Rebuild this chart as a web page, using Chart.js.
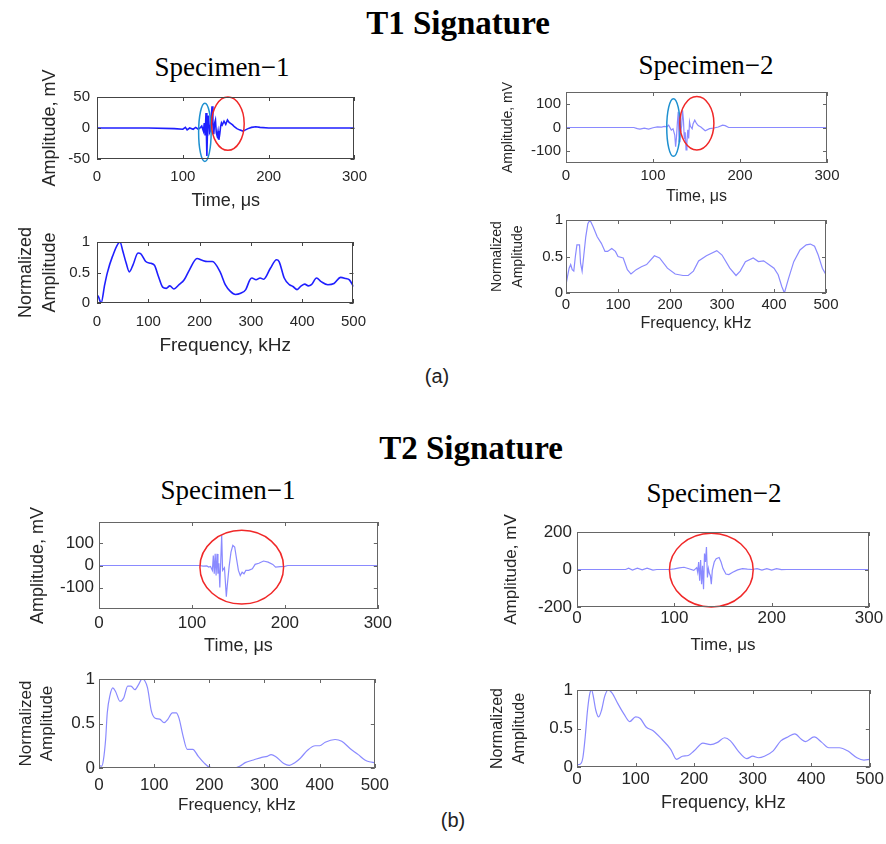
<!DOCTYPE html>
<html>
<head>
<meta charset="utf-8">
<script src="https://cdn.jsdelivr.net/npm/chart.js@4.4.1/dist/chart.umd.min.js"></script>
<style>
  html, body { margin: 0; padding: 0; background: #fff; }
  #wrap { position: relative; width: 886px; height: 844px; overflow: hidden; background: #fff; }
  canvas { position: absolute; }
  .t { position: absolute; white-space: nowrap; transform: translateX(-50%); line-height: 1; color: #000; }
  .big { font-family: "Liberation Serif", serif; font-weight: bold; font-size: 33px; }
  .spec { font-family: "Liberation Serif", serif; font-size: 27px; }
  .lab { font-family: "Liberation Sans", sans-serif; font-size: 20px; color: #222; }
</style>
</head>
<body>
<div id="wrap">
  <div class="t big" style="left:458px; top:7px;">T1 Signature</div>
  <div class="t spec" style="left:222px; top:54px;">Specimen−1</div>
  <div class="t spec" style="left:706px; top:52px;">Specimen−2</div>
  <div class="t lab" style="left:437px; top:366px;">(a)</div>
  <div class="t big" style="left:471px; top:432px;">T2 Signature</div>
  <div class="t spec" style="left:228px; top:477px;">Specimen−1</div>
  <div class="t spec" style="left:714px; top:480px;">Specimen−2</div>
  <div class="t lab" style="left:453px; top:810px;">(b)</div>
</div>
<script>
// ---------------- DATA ----------------
// T1 Signature, Specimen-1, time domain (µs, mV)
const t1s1Time = [0,60,90,100,103,105,108,112,115,118,120,122,124,125,126,127,128,129,130,131,132,133,134,135,136,137,138,139,140,141,142,143,144,145,146,148,150,152,154,156,158,160,163,166,170,173,176,180,185,190,200,250,300];
const t1s1Amp  = [0,0,-1,-2,1,-3,0,-2,1,-2,0,3,-5,8,-12,24,-45,10,20,-8,-5,15,35,5,-10,8,13,-8,-13,-5,-19,-10,2,8,5,11,6,13,9,7,5,2,-1,-3,-5,-3,-1,1,2,1,0,0,0];
// T1 Signature, Specimen-1, frequency domain (kHz, normalized)
const t1s1Freq = [0,3,8,15,20,30,45,50,57,63,70,80,85,95,105,112,120,128,135,142,150,160,170,180,195,205,215,225,240,250,260,270,280,290,298,302,310,318,325,338,350,355,365,375,382,390,398,405,412,418,428,437,450,462,475,485,492,500];
const t1s1Norm = [0.135,0.1,0.0,0.3,0.49,0.76,1.0,0.86,0.65,0.51,0.62,0.82,0.81,0.68,0.65,0.62,0.43,0.26,0.24,0.28,0.23,0.3,0.38,0.54,0.73,0.7,0.68,0.68,0.51,0.3,0.19,0.14,0.16,0.22,0.38,0.41,0.38,0.41,0.39,0.57,0.71,0.68,0.41,0.3,0.27,0.22,0.28,0.31,0.28,0.3,0.41,0.35,0.3,0.32,0.42,0.4,0.38,0.27];
// T1 Signature, Specimen-2, time domain
const t1s2Time = [0,78,82,85,90,95,100,105,110,113,116,118,121,123,125,126,127,128,129,130,131,132,133,134,135,136,137,138,139,140,141,142,143,145,146,148,150,152,155,160,165,170,175,180,183,187,190,220,300];
const t1s2Amp  = [0,0,-5,-7,-3,-7,-1,3,2,5,3,10,-11,-5,-32,-81,-40,20,66,-60,45,-20,10,73,30,-50,-20,-95,-60,-10,-46,24,5,-5,15,31,17,8,2,-14,-5,-2,2,10,8,0,0,0,0];
// T1 Signature, Specimen-2, frequency domain
const t1s2Freq = [0,3,6,9,12,15,18,21,26,28,31,34,38,42,46,52,60,68,75,80,88,95,100,110,118,125,135,145,155,170,180,195,210,225,235,245,255,270,290,300,315,327,335,345,360,370,380,390,400,408,415,420,428,438,450,462,470,478,485,493,500];
const t1s2Norm = [0.11,0.23,0.34,0.39,0.32,0.3,0.5,0.66,0.66,0.41,0.3,0.5,0.77,0.95,1.0,0.91,0.77,0.68,0.57,0.57,0.61,0.57,0.5,0.48,0.32,0.26,0.32,0.36,0.39,0.51,0.48,0.34,0.26,0.24,0.24,0.3,0.44,0.51,0.58,0.52,0.34,0.24,0.3,0.43,0.48,0.43,0.44,0.39,0.34,0.25,0.09,0.0,0.2,0.43,0.59,0.66,0.67,0.64,0.52,0.34,0.25];
// T2 Signature, Specimen-1, time domain
const t2s1Time = [0,108,112,116,118,120,122,123,124,125,126,127,128,129,130,131,132,133,135,137,138,140,142,144,146,148,150,152,154,156,158,161,165,168,172,177,182,187,190,195,200,203,300];
const t2s1Amp  = [0,0,-3,-2,-7,-4,-22,45,-37,52,-45,52,-37,10,-98,20,135,-22,-10,-140,-90,-5,60,90,83,30,-22,-45,-30,-37,-22,-22,-15,5,10,20,15,5,-7,-5,-4,0,0];
// T2 Signature, Specimen-1, frequency domain
const t2s1Freq = [0,5,8,12,15,20,25,30,38,45,52,58,65,72,78,83,88,95,102,110,118,125,133,140,145,152,160,170,180,190,200,220,245,255,265,280,295,305,312,320,335,345,355,365,378,392,400,410,428,440,455,470,482,490,500];
const t2s1Norm = [0.03,0.02,0.09,0.32,0.62,0.82,0.9,0.86,0.75,0.79,0.92,0.92,0.88,0.94,1.0,0.98,0.9,0.64,0.56,0.55,0.51,0.55,0.62,0.62,0.56,0.37,0.21,0.21,0.13,0.06,0.01,0.0,0.0,0.02,0.06,0.09,0.12,0.13,0.15,0.13,0.05,0.03,0.06,0.11,0.2,0.25,0.25,0.29,0.32,0.3,0.22,0.15,0.09,0.07,0.06];
// T2 Signature, Specimen-2, time domain
const t2s2Time = [0,50,53,57,62,67,72,78,82,95,100,105,110,115,120,123,124,125,126,127,128,129,130,131,132,133,134,135,136,137,138,139,141,143,146,148,150,153,156,160,165,170,175,180,185,190,195,200,205,210,215,220,300];
const t2s2Amp  = [0,0,7,-3,7,-2,7,-3,0,0,3,9,12,4,-5,10,-15,40,-60,50,-78,20,-105,85,40,120,-42,5,-20,-33,-78,-5,40,58,64,40,5,-24,-27,-15,-2,5,2,0,5,-3,5,-3,5,-1,0,0,0];
// T2 Signature, Specimen-2, frequency domain
const t2s2Freq = [0,6,10,14,18,22,25,28,32,37,42,47,53,60,70,80,90,100,108,118,130,145,160,170,180,190,200,215,228,240,252,262,275,290,300,310,320,335,348,360,372,383,390,405,418,430,448,462,478,490,500];
const t2s2Norm = [0.03,0.04,0.12,0.39,0.74,0.96,1.0,0.91,0.74,0.65,0.74,0.91,1.0,0.96,0.82,0.69,0.59,0.65,0.63,0.52,0.47,0.36,0.23,0.1,0.14,0.15,0.21,0.31,0.29,0.32,0.38,0.34,0.21,0.11,0.14,0.12,0.14,0.21,0.34,0.39,0.43,0.36,0.33,0.39,0.32,0.25,0.25,0.21,0.12,0.09,0.1];

// Tick labels
const timeTicks = [0,100,200,300];
const freqTicks = [0,100,200,300,400,500];
const normTicks = [0,0.5,1];
const ampTicks50 = [-50,0,50];
const ampTicks100 = [-100,0,100];
const ampTicks200 = [-200,0,200];

// Highlight ellipses (centre and semi-axes in data units)
const t1s1Ellipses = [
  {cx:125.7, cy:-7, rx:7.3, ry:47, color:'#1e90d0'},
  {cx:152.5, cy:7, rx:19, ry:43, color:'#f02828'}
];
const t1s2Ellipses = [
  {cx:123.5, cy:0, rx:7.7, ry:122, color:'#1e90d0'},
  {cx:150.4, cy:18, rx:19.6, ry:113, color:'#f02828'}
];
const t2s1Ellipses = [{cx:153.6, cy:-7.5, rx:45, ry:165, color:'#f02828'}];
const t2s2Ellipses = [{cx:138, cy:-3, rx:43, ry:197, color:'#f02828'}];

// ---------------- RENDERING ----------------
function pts(xs, ys) { return xs.map((x, i) => ({x: x, y: ys[i]})); }

const boxPlugin = {
  id: 'box',
  afterDatasetsDraw(chart, args, opts) {
    const ctx = chart.ctx, xs = chart.scales.x, ys = chart.scales.y;
    ctx.save();
    (opts.ellipses || []).forEach(e => {
      const px = xs.getPixelForValue(e.cx), py = ys.getPixelForValue(e.cy);
      const rx = Math.abs(xs.getPixelForValue(e.cx + e.rx) - px);
      const ry = Math.abs(ys.getPixelForValue(e.cy + e.ry) - py);
      ctx.beginPath();
      ctx.ellipse(px, py, rx, ry, 0, 0, Math.PI * 2);
      ctx.strokeStyle = e.color;
      ctx.lineWidth = 1.5;
      ctx.stroke();
    });
    ctx.restore();
  },
  afterDraw(chart, args, opts) {
    const ctx = chart.ctx, a = chart.chartArea, xs = chart.scales.x, ys = chart.scales.y;
    ctx.save();
    ctx.strokeStyle = opts.color || '#555';
    ctx.lineWidth = 1;
    ctx.strokeRect(Math.round(a.left) + 0.5, Math.round(a.top) + 0.5, Math.round(a.right - a.left) - 1, Math.round(a.bottom - a.top) - 1);
    const L = 4;
    ctx.beginPath();
    xs.ticks.forEach(t => {
      const p = Math.round(xs.getPixelForValue(t.value)) + 0.5;
      ctx.moveTo(p, a.bottom); ctx.lineTo(p, a.bottom - L);
      ctx.moveTo(p, a.top); ctx.lineTo(p, a.top + L);
    });
    ys.ticks.forEach(t => {
      const p = Math.round(ys.getPixelForValue(t.value)) + 0.5;
      ctx.moveTo(a.left, p); ctx.lineTo(a.left + L, p);
      ctx.moveTo(a.right, p); ctx.lineTo(a.right - L, p);
    });
    ctx.stroke();
    ctx.restore();
  }
};

const FAM = '"Liberation Sans", Arial, sans-serif';
const PT = 40;

function makePanel(p) {
  // p.area = [left, top, right, bottom] of the plot box in page pixels
  const [L, T, R, B] = p.area;
  const left = L - p.yw, top = T - PT;
  const w = (R - L) + p.yw + p.pr, h = (B - T) + PT + p.xh;
  const c = document.createElement('canvas');
  c.width = w; c.height = h;
  c.style.left = left + 'px'; c.style.top = top + 'px';
  c.style.width = w + 'px'; c.style.height = h + 'px';
  document.getElementById('wrap').appendChild(c);
  new Chart(c, {
    type: 'line',
    data: { datasets: [{
      data: pts(p.xs, p.ys),
      borderColor: p.color,
      borderWidth: p.lw,
      pointRadius: 0,
      fill: false,
      cubicInterpolationMode: p.smooth ? 'monotone' : 'default',
      tension: 0
    }]},
    options: {
      responsive: false,
      animation: false,
      devicePixelRatio: 1,
      events: [],
      layout: { padding: { top: PT, right: p.pr, left: 0, bottom: 0 } },
      plugins: {
        legend: { display: false },
        tooltip: { enabled: false },
        box: { color: p.boxColor, ellipses: p.ellipses || [] }
      },
      scales: {
        x: {
          type: 'linear', min: p.xmin, max: p.xmax,
          grid: { display: false, drawTicks: false }, border: { display: false },
          afterBuildTicks: s => { s.ticks = p.xticks.map(v => ({value: v})); },
          afterFit: s => { s.height = p.xh; },
          ticks: { color: '#262626', padding: p.xpad, maxRotation: 0, autoSkip: false,
                   callback: v => String(v),
                   font: { family: FAM, size: p.tf } },
          title: { display: true, text: p.xtitle, color: '#262626', padding: 0,
                   font: { family: FAM, size: p.xtf } }
        },
        y: {
          type: 'linear', min: p.ymin, max: p.ymax,
          grid: { display: false, drawTicks: false }, border: { display: false },
          afterBuildTicks: s => { s.ticks = p.yticks.map(v => ({value: v})); },
          afterFit: s => { s.width = p.yw; },
          ticks: { color: '#262626', padding: p.ypad, autoSkip: false,
                   callback: v => String(v),
                   font: { family: FAM, size: p.tf } },
          title: { display: true, text: p.ytitle, color: '#262626', padding: 0,
                   font: { family: FAM, size: p.ytf, lineHeight: p.ylh || 1.2 } }
        }
      }
    },
    plugins: [boxPlugin]
  });
}

const STRONG = '#1f1fff', LIGHT = '#8a8aff';
const normTitle = ['Normalized', 'Amplitude'];

// T1 Specimen-1 time
makePanel({area:[97,97,358,159], yw:58, xh:53, pr:18,
  xs:t1s1Time, ys:t1s1Amp, xmin:0, xmax:300, ymin:-50, ymax:50, xticks:timeTicks, yticks:ampTicks50,
  tf:15, xpad:9, ypad:7, xtitle:'Time, μs', xtf:18, ytitle:'Amplitude, mV', ytf:18,
  color:STRONG, lw:1.6, boxColor:'#444', ellipses:t1s1Ellipses});
// T1 Specimen-1 frequency
makePanel({area:[97,242,358,303], yw:83, xh:54, pr:18,
  xs:t1s1Freq, ys:t1s1Norm, xmin:0, xmax:500, ymin:0, ymax:1, xticks:freqTicks, yticks:normTicks,
  tf:15, xpad:10, ypad:7, xtitle:'Frequency, kHz', xtf:19, ytitle:normTitle, ytf:18, ylh:1.33,
  color:STRONG, lw:1.6, boxColor:'#444', smooth:true});
// T1 Specimen-2 time
makePanel({area:[566,92,827,163], yw:66, xh:43, pr:18,
  xs:t1s2Time, ys:t1s2Amp, xmin:0, xmax:300, ymin:-150, ymax:150, xticks:timeTicks, yticks:ampTicks100,
  tf:15, xpad:4, ypad:5, xtitle:'Time, μs', xtf:16, ytitle:'Amplitude, mV', ytf:14,
  color:LIGHT, lw:1.2, boxColor:'#666', ellipses:t1s2Ellipses});
// T1 Specimen-2 frequency
makePanel({area:[566,220,826,293], yw:79, xh:40, pr:18,
  xs:t1s2Freq, ys:t1s2Norm, xmin:0, xmax:500, ymin:0, ymax:1, xticks:freqTicks, yticks:normTicks,
  tf:15, xpad:3, ypad:3, xtitle:'Frequency, kHz', xtf:16, ytitle:normTitle, ytf:14, ylh:1.5,
  color:LIGHT, lw:1.2, boxColor:'#666'});
// T2 Specimen-1 time
makePanel({area:[99,522,378,609], yw:72, xh:48, pr:18,
  xs:t2s1Time, ys:t2s1Amp, xmin:0, xmax:300, ymin:-195, ymax:195, xticks:timeTicks, yticks:ampTicks100,
  tf:17, xpad:4, ypad:5, xtitle:'Time, μs', xtf:18, ytitle:'Amplitude, mV', ytf:18,
  color:LIGHT, lw:1.2, boxColor:'#666', ellipses:t2s1Ellipses});
// T2 Specimen-2 time
makePanel({area:[577,532,869,607], yw:76, xh:49, pr:17,
  xs:t2s2Time, ys:t2s2Amp, xmin:0, xmax:300, ymin:-200, ymax:200, xticks:timeTicks, yticks:ampTicks200,
  tf:17, xpad:1, ypad:5, xtitle:'Time, μs', xtf:17, ytitle:'Amplitude, mV', ytf:17,
  color:LIGHT, lw:1.2, boxColor:'#666', ellipses:t2s2Ellipses});
// T2 Specimen-1 frequency
makePanel({area:[99,679,378,768], yw:83, xh:48, pr:18,
  xs:t2s1Freq, ys:t2s1Norm, xmin:0, xmax:500, ymin:0, ymax:1, xticks:freqTicks, yticks:normTicks,
  tf:17, xpad:7, ypad:4, xtitle:'Frequency, kHz', xtf:17, ytitle:normTitle, ytf:17, ylh:1.24,
  color:LIGHT, lw:1.2, boxColor:'#666', smooth:true});
// T2 Specimen-2 frequency
makePanel({area:[577,690,870,767], yw:90, xh:47, pr:16,
  xs:t2s2Freq, ys:t2s2Norm, xmin:0, xmax:500, ymin:0, ymax:1, xticks:freqTicks, yticks:normTicks,
  tf:17, xpad:2, ypad:4, xtitle:'Frequency, kHz', xtf:18, ytitle:normTitle, ytf:16, ylh:1.375,
  color:LIGHT, lw:1.2, boxColor:'#666', smooth:true});
</script>
</body>
</html>
